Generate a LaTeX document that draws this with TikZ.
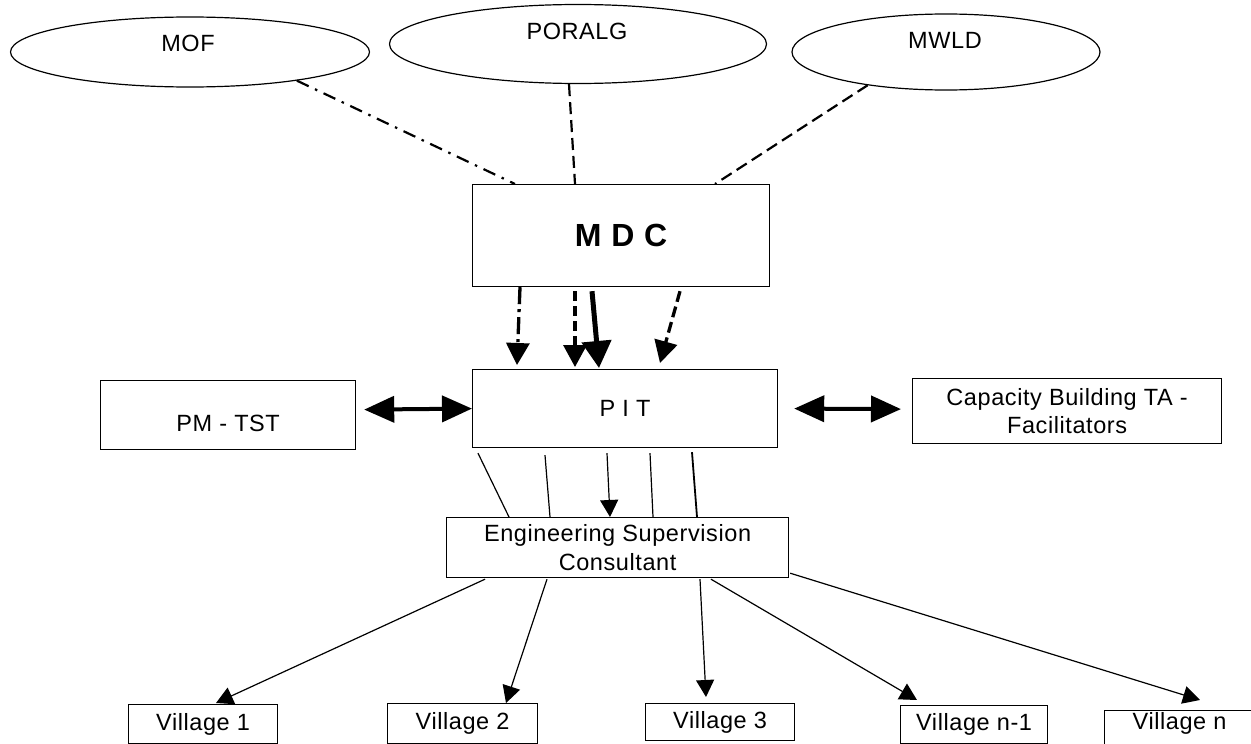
\documentclass[tikz,border=0pt]{standalone}
\usepackage{fontspec}
\setmainfont[LetterSpace=2.5]{Liberation Sans}
\usetikzlibrary{arrows.meta,shapes.geometric,calc}
\begin{document}
\begin{tikzpicture}[x=1pt,y=-1pt,
  font=\fontsize{23.5}{29}\selectfont,
  box/.style={draw,line width=1.2pt,inner sep=0pt,anchor=north west,align=center},
  ell/.style={draw,ellipse,line width=1.2pt,inner sep=0pt},
  txt/.style={inner sep=0pt},
  dashline/.style={line width=2.2pt,dash pattern=on 12pt off 6pt},
  dashdotline/.style={line width=2.2pt,dash pattern=on 13pt off 7pt on 2.5pt off 7pt},
  thin/.style={line width=1.2pt},
  bigtip/.style={-{Triangle[length=22pt,width=23pt]}},
  smalltip/.style={-{Triangle[length=17pt,width=18pt]}},
  dbl/.style={line width=4pt,{Triangle[length=30pt,width=26pt]}-{Triangle[length=30pt,width=26pt]}}
]
\useasboundingbox (0,0) rectangle (1251,744);
\begin{scope}
\clip (0,0) rectangle (1251,744);
% ellipses
\node[ell,minimum width=359pt,minimum height=70pt] (mof) at (190,52) {};
\node[txt] (moft) at (188,43) {MOF};
\node[ell,minimum width=377pt,minimum height=79pt] (poralg) at (578,44) {};
\node[txt] (poralgt) at (577,31) {PORALG};
\node[ell,minimum width=308pt,minimum height=76pt] (mwld) at (946,52) {};
\node[txt] (mwldt) at (945,40) {MWLD};
% boxes
\node[box,minimum width=297pt,minimum height=102pt] (mdc) at (472,184) {\bfseries\fontsize{32}{38}\selectfont M D C};
\node[box,minimum width=305pt,minimum height=78pt] (pit) at (472,369) {P I T};
\node[box,minimum width=255pt,minimum height=69pt] (pm) at (100,380) {};
\node[txt] (pmt) at ($(pm.center)+(0,8.5)$) {PM - TST};
\node[box,minimum width=309pt,minimum height=65pt] (cap) at (912,378) {Capacity Building TA -\\[-0.5pt]Facilitators};
\node[box,minimum width=342pt,minimum height=60pt] (esc) at (446,517) {Engineering Supervision\\Consultant};
\node[box,minimum width=149pt,minimum height=39pt] (v1) at (128,704) {Village 1};
\node[box,minimum width=150pt,minimum height=40pt] (v2) at (387,703) {Village 2};
\node[box,minimum width=149pt,minimum height=37pt] (v3) at (645,703) {Village 3};
\node[box,minimum width=147pt,minimum height=38pt] (vn1) at (900,705) {Village n-1};
\node[box,minimum width=150pt,minimum height=40pt] (vn) at (1104,710) {};
\node[txt] (vnt) at ($(vn.center)+(0,-7)$) {Village n};
% top connectors
\draw[dashdotline] (mof.-15) -- ($(mdc.north west)+(43,0)$);
\draw[dashline] ($(poralg.south)+(-9,0)$) -- ($(mdc.north west)+(103,0)$);
\draw[dashline] (mwld.203) -- ($(mdc.north west)+(243,0)$);
% MDC -> PIT
\draw[bigtip,line width=3.3pt,dash pattern=on 17pt off 5pt on 3pt off 5pt] ($(mdc.south west)+(48,0)$) -- ($(pit.north west)+(45,-4)$);
\draw[bigtip,line width=3.3pt,dash pattern=on 10pt off 5pt] ($(mdc.south west)+(103,4)$) -- ($(pit.north west)+(103,-2)$);
\draw[line width=5pt,-{Triangle[length=27pt,width=29pt]}] ($(mdc.south west)+(120,4)$) -- ($(pit.north west)+(127,-1)$);
\draw[bigtip,line width=3.3pt,dash pattern=on 11pt off 5pt] ($(mdc.south west)+(208,4)$) -- ($(pit.north west)+(188,-6)$);
% double arrows
\draw[dbl] ($(pm.east)+(8,-5.5)$) -- (pit.west);
\draw[dbl] ($(pit.east)+(16,0)$) -- ($(cap.west)+(-11,-2)$);
% PIT -> ESC
\draw[thin] ($(pit.south west)+(6,5)$) -- ($(esc.north west)+(63,0)$);
\draw[thin] ($(pit.south west)+(73,7)$) -- ($(esc.north west)+(104,0)$);
\draw[thin,smalltip] ($(pit.south west)+(135,5)$) -- ($(esc.north west)+(164,0)$);
\draw[thin] ($(pit.south west)+(178,5)$) -- ($(esc.north west)+(207,0)$);
\draw[line width=1.8pt] ($(pit.south west)+(220,4)$) -- ($(esc.north west)+(251,0)$);
% ESC -> villages
\draw[thin,smalltip] ($(esc.south west)+(39,1)$) -- ($(v1.north west)+(88,-1)$);
\draw[thin,smalltip] ($(esc.south west)+(101,1)$) -- ($(v2.north west)+(119,0)$);
\draw[thin,smalltip] ($(esc.south west)+(254,1)$) -- ($(v3.north west)+(61,-6)$);
\draw[thin,smalltip] ($(esc.south west)+(265,1)$) -- ($(vn1.north west)+(17,-5)$);
\draw[thin,smalltip] ($(esc.south east)+(1,-5)$) -- ($(vn.north west)+(96,-10)$);
\end{scope}
\end{tikzpicture}
\end{document}
